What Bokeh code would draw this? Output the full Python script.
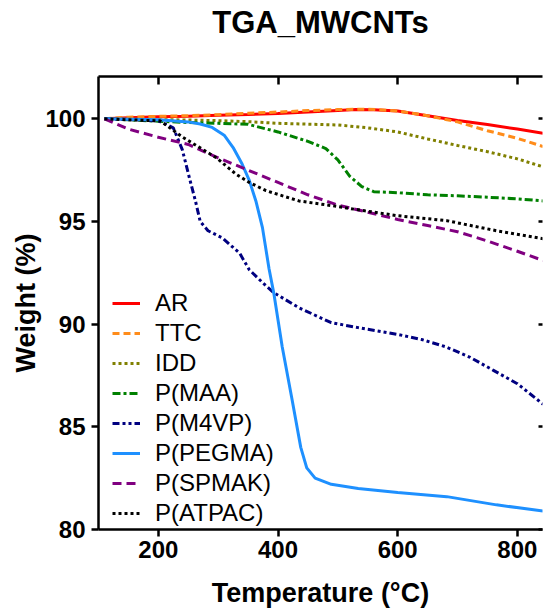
from bokeh.plotting import figure
from bokeh.models import LinearAxis, Range1d, Legend, LegendItem, FixedTicker, CustomLabelingPolicy
from bokeh.embed import file_html
from bokeh.resources import INLINE

# ---- data ----
ar_t = [110, 150, 200, 250, 300, 350, 400, 450, 500, 530, 560, 600, 650, 700, 750, 800, 843]
ar_w = [100.0, 100.05, 100.1, 100.12, 100.17, 100.21, 100.26, 100.33, 100.41, 100.45, 100.44, 100.38, 100.15, 99.92, 99.72, 99.5, 99.3]

ttc_t = [110, 150, 200, 250, 300, 350, 400, 450, 500, 550, 600, 650, 700, 750, 800, 843]
ttc_w = [100.0, 100.08, 100.12, 100.15, 100.2, 100.27, 100.33, 100.4, 100.45, 100.47, 100.38, 100.15, 99.85, 99.42, 99.05, 98.65]

idd_t = [110, 150, 200, 250, 300, 350, 400, 450, 500, 550, 600, 650, 700, 750, 800, 843]
idd_w = [100.0, 99.98, 99.96, 99.94, 99.91, 99.86, 99.78, 99.74, 99.7, 99.56, 99.36, 99.02, 98.7, 98.4, 98.05, 97.66]

maa_t = [110, 150, 200, 250, 300, 350, 400, 450, 480, 500, 520, 540, 560, 600, 650, 700, 750, 800, 843]
maa_w = [100.0, 99.95, 99.88, 99.82, 99.78, 99.73, 99.36, 98.9, 98.55, 98.0, 97.2, 96.7, 96.45, 96.4, 96.3, 96.25, 96.18, 96.1, 96.0]

m4vp_t = [110, 150, 200, 225, 240, 253, 262, 270, 283, 307, 336, 352, 375, 393, 435, 489, 534, 600, 640, 680, 720, 760, 800, 843]
m4vp_w = [100.0, 99.97, 99.9, 99.56, 98.5, 97.0, 96.0, 95.0, 94.55, 94.2, 93.45, 92.65, 92.0, 91.53, 90.8, 90.07, 89.83, 89.5, 89.25, 88.9, 88.4, 87.75, 87.1, 86.1]

pegma_t = [110, 150, 200, 250, 270, 290, 310, 325, 340, 352, 363, 374, 385, 393, 407, 423, 438, 448, 462, 489, 534, 600, 682, 765, 843]
pegma_w = [100.0, 99.98, 99.95, 99.85, 99.75, 99.58, 99.2, 98.6, 97.8, 97.0, 96.0, 94.7, 92.7, 91.5, 88.9, 86.4, 84.0, 83.0, 82.5, 82.2, 82.0, 81.8, 81.6, 81.2, 80.9]

spmak_t = [110, 150, 200, 250, 300, 350, 400, 450, 500, 550, 600, 650, 700, 750, 800, 843]
spmak_w = [100.0, 99.5, 99.1, 98.75, 98.1, 97.5, 96.9, 96.3, 95.8, 95.45, 95.1, 94.8, 94.5, 94.05, 93.55, 93.1]

atpac_t = [110, 150, 203, 241, 297, 330, 352, 380, 435, 490, 545, 600, 682, 765, 843]
atpac_w = [100.0, 99.95, 99.9, 99.1, 98.1, 97.3, 96.9, 96.5, 96.0, 95.77, 95.52, 95.28, 95.04, 94.55, 94.16]

series_names = ["AR", "TTC", "IDD", "P(MAA)", "P(M4VP)", "P(PEGMA)", "P(SPMAK)", "P(ATPAC)"]
x_ticks = [200, 400, 600, 800]
y_ticks = [80, 85, 90, 95, 100]

FONT = "Liberation Sans"

p = figure(width=547, height=616, output_backend="svg", toolbar_location=None,
           x_range=Range1d(100, 842), y_range=Range1d(80, 102.06),
           min_border_left=98, min_border_right=0, min_border_top=76, min_border_bottom=87)

p.title.text = "TGA_MWCNTs"
p.title.align = "center"
p.title.text_font = FONT
p.title.text_font_size = "31px"
p.title.text_font_style = "bold"
p.title.text_color = "black"
p.title.standoff = 4

p.xgrid.grid_line_color = None
p.ygrid.grid_line_color = None
p.outline_line_color = None

def style_axis(ax):
    ax.axis_line_width = 2.5
    ax.axis_line_color = "black"
    ax.major_tick_line_width = 2.5
    ax.major_tick_line_color = "black"
    ax.minor_tick_line_color = None
    ax.major_label_text_font = FONT
    ax.major_label_text_font_style = "bold"
    ax.major_label_text_font_size = "24px"
    ax.major_label_text_color = "black"
    ax.axis_label_text_font = FONT
    ax.axis_label_text_font_style = "bold"
    ax.axis_label_text_font_size = "27px"
    ax.axis_label_text_color = "black"

xa = p.xaxis[0]
ya = p.yaxis[0]
for ax in (xa, ya):
    style_axis(ax)
    ax.major_tick_out = 7
    ax.major_tick_in = 0
xa.ticker = FixedTicker(ticks=x_ticks)
ya.ticker = FixedTicker(ticks=y_ticks)
xa.axis_label = "Temperature (°C)"
ya.axis_label = "Weight (%)"
xa.major_label_standoff = 4
ya.major_label_standoff = 6
xa.axis_label_standoff = 17
ya.axis_label_standoff = 1

hide_labels = "for (const i of indices) { indices.unset(i) } return indices"

top = LinearAxis(ticker=FixedTicker(ticks=x_ticks))
style_axis(top)
top.major_tick_in = 8
top.major_tick_out = 0
top.major_label_text_font_size = "1px"
top.major_label_standoff = 31
top.major_label_policy = CustomLabelingPolicy(code=hide_labels)
p.add_layout(top, "above")

right = LinearAxis(ticker=FixedTicker(ticks=y_ticks))
style_axis(right)
right.axis_line_color = None
right.major_tick_in = 4
right.major_tick_out = 0
right.major_label_text_font_size = "1px"
right.major_label_standoff = 0
right.major_label_policy = CustomLabelingPolicy(code=hide_labels)
p.add_layout(right, "right")

specs = [
    (ar_t, ar_w, "#FF0000", "solid"),
    (ttc_t, ttc_w, "#FF8C1A", "7 4"),
    (idd_t, idd_w, "#808000", "3 3"),
    (maa_t, maa_w, "#008000", "8 3 3 3"),
    (m4vp_t, m4vp_w, "#000080", "7 3 3 3 3 3"),
    (pegma_t, pegma_w, "#1E90FF", "solid"),
    (spmak_t, spmak_w, "#800080", "9 5"),
    (atpac_t, atpac_w, "#000000", "3 3"),
]

renderers = []
for (t, w, c, d) in specs:
    r = p.line(t, w, line_color=c, line_width=3, line_dash=d)
    renderers.append(r)

items = [LegendItem(label=n, renderers=[r]) for n, r in zip(series_names, renderers)]
legend = Legend(items=items, location=(14, 2), padding=0, margin=0, spacing=2,
                label_height=26, glyph_height=26, glyph_width=28, label_standoff=15,
                label_text_font=FONT, label_text_font_size="24px", label_text_color="black",
                border_line_color=None, background_fill_alpha=0)
p.add_layout(legend)

open("out.html", "w").write(file_html(p, INLINE))
